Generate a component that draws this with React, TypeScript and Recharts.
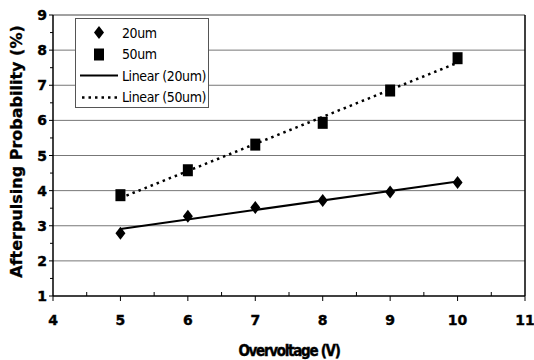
import React from 'react';
import { ScatterChart, Scatter, XAxis, YAxis, ReferenceLine, Legend } from 'recharts';

const overvoltage = [5, 6, 7, 8, 9, 10];
const ap20um = [2.79, 3.27, 3.52, 3.72, 3.96, 4.23];
const ap50um = [3.87, 4.58, 5.31, 5.93, 6.85, 7.77];
const trendX = [5, 10];
const trend20Y = [2.91, 4.26];
const trend50Y = [3.79, 7.64];
const xTicks = [4, 4.5, 5, 5.5, 6, 6.5, 7, 7.5, 8, 8.5, 9, 9.5, 10, 10.5, 11];
const yTicks = [1, 1.5, 2, 2.5, 3, 3.5, 4, 4.5, 5, 5.5, 6, 6.5, 7, 7.5, 8, 8.5, 9];
const yGrid = [2, 3, 4, 5, 6, 7, 8, 9];
const legendLabels = ['20um', '50um', 'Linear (20um)', 'Linear (50um)'];

const data20 = overvoltage.map((x, i) => ({ x, y: ap20um[i] }));
const data50 = overvoltage.map((x, i) => ({ x, y: ap50um[i] }));
const t20 = trendX.map((x, i) => ({ x, y: trend20Y[i] }));
const t50 = trendX.map((x, i) => ({ x, y: trend50Y[i] }));

const TICK_FONT = {
  fontFamily: 'DejaVu Sans',
  fontWeight: 700,
  fontSize: 14,
  fill: '#000',
  stroke: '#000',
  strokeWidth: 0.4,
};

const Diamond = (props: any) => {
  const { cx, cy } = props;
  if (cx == null || cy == null) return <g />;
  return <polygon points={`${cx},${cy - 6.5} ${cx + 5},${cy} ${cx},${cy + 6.5} ${cx - 5},${cy}`} fill="#000" />;
};
const Square = (props: any) => {
  const { cx, cy } = props;
  if (cx == null || cy == null) return <g />;
  return <rect x={cx - 5} y={cy - 6} width={10} height={12} fill="#000" />;
};
const NoShape = () => <g />;

const XTick = (props: any) => {
  const { x, y, payload } = props;
  const v = payload.value;
  const axisY = y - 19;
  const major = Number.isInteger(v);
  return (
    <g>
      {major ? (
        <line x1={x} x2={x} y1={axisY} y2={axisY + 5} stroke="#000" strokeWidth={1} />
      ) : (
        <line x1={x} x2={x} y1={axisY - 4} y2={axisY} stroke="#000" strokeWidth={1} />
      )}
      {major && (
        <text x={x} y={y} dy={10} textAnchor="middle" {...TICK_FONT}>
          {v}
        </text>
      )}
    </g>
  );
};

const YTick = (props: any) => {
  const { x, y, payload } = props;
  const v = payload.value;
  const axisX = x + 6;
  const major = Number.isInteger(v);
  return (
    <g>
      <line x1={major ? axisX - 4 : axisX - 3} x2={axisX} y1={y} y2={y} stroke="#000" strokeWidth={1} />
      {major && (
        <text x={x} y={y} dy={5} textAnchor="end" {...TICK_FONT}>
          {v}
        </text>
      )}
    </g>
  );
};

const legendIcon = (i: number) => {
  if (i === 0)
    return <polygon points="19,4 24,10.5 19,17 14,10.5" fill="#000" />;
  if (i === 1) return <rect x={14} y={4.5} width={10} height={12} fill="#000" />;
  if (i === 2) return <line x1={0} x2={38} y1={10.5} y2={10.5} stroke="#000" strokeWidth={2} />;
  return <line x1={2} x2={38} y1={10.5} y2={10.5} stroke="#000" strokeWidth={2.5} strokeDasharray="2.5 4" />;
};

const renderLegend = () => (
  <div
    style={{
      width: 132,
      height: 85,
      border: '1px solid #555',
      background: '#fff',
      paddingTop: 3,
      boxSizing: 'content-box',
    }}
  >
    {legendLabels.map((label, i) => (
      <div key={label} style={{ display: 'flex', alignItems: 'center', height: 21.5 }}>
        <svg width={42} height={21} style={{ marginLeft: 4 }}>
          {legendIcon(i)}
        </svg>
        <span
          style={{
            fontFamily: 'DejaVu Sans Condensed',
            fontSize: 14,
            letterSpacing: -0.4,
            color: '#000',
          }}
        >
          {label}
        </span>
      </div>
    ))}
  </div>
);

const YTitle = (props: any) => {
  const vb = props.viewBox || {};
  const cx = 22;
  const cy = (vb.y ?? 15) + (vb.height ?? 281) / 2 - 4;
  return (
    <text
      x={cx}
      y={cy}
      transform={`rotate(-90 ${cx} ${cy})`}
      textAnchor="middle"
      fontFamily="DejaVu Sans"
      fontWeight={700}
      fontSize={16}
      fill="#000"
      stroke="#000"
      strokeWidth={0.3}
    >
      Afterpulsing Probability (%)
    </text>
  );
};

const XTitle = (props: any) => {
  const vb = props.viewBox || {};
  const cx = (vb.x ?? 53) + (vb.width ?? 472) / 2;
  return (
    <text
      x={cx}
      y={356}
      textAnchor="middle"
      fontFamily="DejaVu Sans Condensed"
      fontWeight={700}
      fontSize={15}
      letterSpacing={-1.3}
      fill="#000"
      stroke="#000"
      strokeWidth={0.4}
    >
      Overvoltage (V)
    </text>
  );
};

export default function App() {
  return (
    <div style={{ position: 'absolute', left: 0, top: 0, width: 534, height: 360, background: '#fff' }}>
      <ScatterChart width={534} height={360} margin={{ top: 15, right: 9, bottom: 0, left: 0 }}>
        {yGrid.map((v) => (
          <ReferenceLine key={v} y={v} stroke={v === 9 ? '#444' : '#777'} strokeWidth={1} />
        ))}
        <ReferenceLine x={11} stroke="#000" strokeWidth={1.5} />
        <XAxis
          type="number"
          dataKey="x"
          domain={[4, 11]}
          ticks={xTicks}
          interval={0}
          height={64}
          tickSize={5}
          tickMargin={14}
          tickLine={false}
          axisLine={{ stroke: '#000', strokeWidth: 1.5 }}
          tick={<XTick />}
          allowDataOverflow
          label={{ content: XTitle }}
        />
        <YAxis
          type="number"
          dataKey="y"
          domain={[1, 9]}
          ticks={yTicks}
          interval={0}
          width={53}
          tickSize={4}
          tickMargin={2}
          tickLine={false}
          axisLine={{ stroke: '#000', strokeWidth: 1.5 }}
          tick={<YTick />}
          allowDataOverflow
          label={{ content: YTitle }}
        />
        <Scatter
          data={t20}
          line={{ stroke: '#000', strokeWidth: 2 }}
          shape={NoShape}
          legendType="none"
          isAnimationActive={false}
        />
        <Scatter
          data={t50}
          line={{ stroke: '#000', strokeWidth: 2.5, strokeDasharray: '2.5 4' }}
          shape={NoShape}
          legendType="none"
          isAnimationActive={false}
        />
        <Scatter data={data20} shape={Diamond} isAnimationActive={false} />
        <Scatter data={data50} shape={Square} isAnimationActive={false} />
        <Legend
          layout="vertical"
          align="center"
          verticalAlign="middle"
          wrapperStyle={{ top: 18, left: 75, width: 134, height: 89 }}
          content={renderLegend}
        />
      </ScatterChart>
    </div>
  );
}
